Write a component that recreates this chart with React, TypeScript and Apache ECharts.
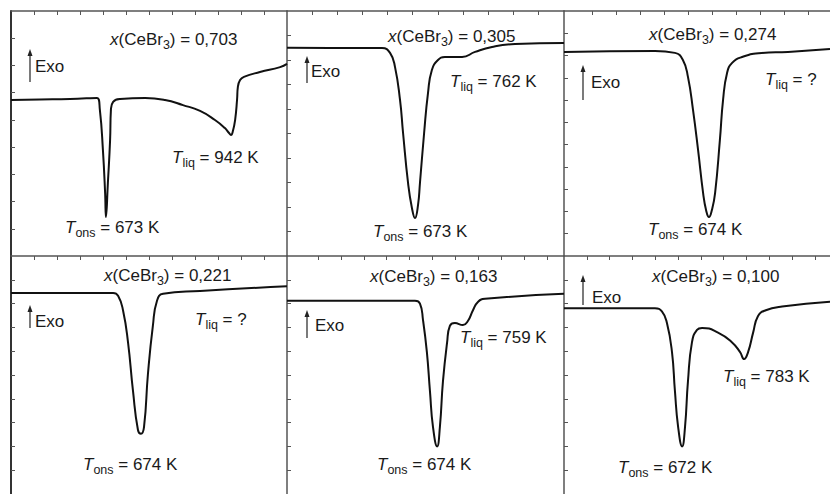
import React, { useEffect, useRef } from "react";
import * as echarts from "echarts";

// Panel labels
const compositions = ["0,703", "0,305", "0,274", "0,221", "0,163", "0,100"];
const tOnsLabels = ["673 K", "673 K", "674 K", "674 K", "674 K", "672 K"];
const tLiqLabels = ["942 K", "762 K", "?", "?", "759 K", "783 K"];

// DSC curves, x: 0..100 (% of panel span), y: 0..100 (heat flow, arbitrary)
const curve0703: number[][] = [
  [0, 63.7], [10.5, 63.9], [21.4, 64.1], [31.2, 64.5], [32.2, 59.6], [33.3, 43.3],
  [34.1, 25.7], [34.4, 15.9], [35.1, 29.8], [35.9, 47.3], [36.2, 59.6], [37.0, 62.9],
  [39.5, 64.1], [48.6, 64.5], [55.8, 63.7], [62.3, 61.6], [68.5, 59.2], [73.9, 55.5],
  [77.5, 52.2], [79.0, 50.2], [79.7, 49.4], [80.4, 51.0], [81.2, 55.5], [81.9, 63.7],
  [82.2, 69.0], [83.0, 71.8], [84.4, 73.1], [90.2, 75.1], [97.5, 77.1], [100, 78.4],
];
const curve0305: number[][] = [
  [0, 85.0], [15.5, 84.9], [34.3, 84.9], [37.2, 82.9], [39.0, 77.1], [40.8, 63.7],
  [41.9, 50.2], [43.7, 29.8], [45.1, 19.6], [46.2, 15.5], [47.3, 20.8], [48.0, 29.8],
  [49.5, 50.2], [50.9, 66.5], [52.3, 75.9], [54.5, 80.0], [57.0, 81.2], [63.2, 81.2],
  [67.9, 83.3], [74.0, 85.3], [82.3, 86.5], [100, 86.9],
];
const curve0274: number[][] = [
  [0, 83.3], [34.2, 83.7], [41.7, 82.9], [44.7, 80.0], [46.6, 73.1], [48.5, 59.6],
  [50.4, 43.3], [52.3, 25.7], [53.4, 18.8], [54.5, 15.9], [55.6, 18.8], [56.8, 25.7],
  [58.6, 47.3], [59.8, 63.7], [61.3, 74.7], [63.2, 78.8], [66.9, 81.2], [74.4, 82.9],
  [84.2, 83.3], [100, 84.5],
];
const curve0221: number[][] = [
  [0, 84.5], [37.0, 84.5], [38.8, 83.3], [40.6, 77.1], [42.4, 63.7], [44.2, 43.3],
  [46.0, 26.9], [47.1, 25.3], [48.2, 28.2], [49.6, 50.2], [51.4, 70.6], [52.9, 81.2],
  [55.1, 84.1], [68.5, 85.3], [100, 87.3],
];
const curve0163: number[][] = [
  [0, 81.2], [46.2, 81.2], [48.0, 80.0], [49.1, 73.1], [50.5, 59.6], [51.6, 43.3],
  [52.7, 28.2], [54.2, 20.0], [55.2, 28.2], [56.3, 47.3], [57.8, 63.7], [58.8, 70.6],
  [60.6, 71.8], [63.5, 71.0], [65.3, 72.7], [67.1, 77.1], [69.0, 80.8], [71.5, 82.0],
  [100, 84.1],
];
const curve0100: number[][] = [
  [0, 78.0], [34.2, 78.0], [36.8, 76.7], [38.7, 71.8], [40.6, 59.6], [41.7, 43.3],
  [42.9, 28.2], [44.4, 20.0], [45.5, 28.2], [46.6, 47.3], [48.1, 63.7], [50.0, 69.0],
  [51.9, 69.8], [57.9, 67.8], [63.2, 63.7], [66.2, 59.6], [67.7, 56.7], [69.2, 59.6],
  [71.1, 67.8], [72.9, 74.7], [75.6, 77.1], [82.0, 78.8], [100, 80.8],
];
const curves = [curve0703, curve0305, curve0274, curve0221, curve0163, curve0100];

// Tick positions (same 0..100 units)
const xTickStart = [8.33, 9.03, 10.5, 8.33, 11.2, 8.6];
const xTickStep = [8.333, 9.09, 9.02, 8.333, 8.27, 8.57];
const yTickCount = [9, 10, 11, 10, 10, 10];

const FONT = "'Liberation Sans', Arial, Helvetica, sans-serif";
const INK = "#1a1a1a";
const AXIS = "#555";

const cols = [
  { left: 11, width: 276 },
  { left: 287, width: 277 },
  { left: 564, width: 266 },
];
const rows = [
  { top: 11, height: 245 },
  { top: 256, height: 245 },
];

// Annotation placement (pixels): [left, capCenterY]
const titlePos = [[110, 40], [388, 37], [649, 35], [104, 276], [370, 277], [652, 277]];
const exoPos = [[35, 67], [311, 72], [591, 83], [35, 322], [315, 326], [592, 298]];
const liqPos = [[172, 158], [450, 82], [765, 80], [195, 320], [460, 338], [723, 377]];
const onsPos = [[65, 228], [373, 232], [648, 230], [83, 465], [377, 465], [618, 468]];
const arrowPos = [[30, 49, 82], [307, 56, 83], [583, 65, 100], [30, 305, 328], [307, 310, 338], [583, 275, 305]];

const rich = {
  n: { fontSize: 17, fontFamily: FONT, fill: INK, verticalAlign: "top" },
  i: { fontSize: 17, fontFamily: FONT, fill: INK, fontStyle: "italic", verticalAlign: "top" },
  s: { fontSize: 12.5, fontFamily: FONT, fill: INK, verticalAlign: "top", padding: [8, 0, 0, 0] },
};

function textEl(x: number, cy: number, text: string) {
  return {
    type: "text",
    x,
    y: cy - 9.5,
    silent: true,
    style: {
      text,
      rich,
      fontSize: 17,
      fontFamily: FONT,
      fill: INK,
      align: "left",
      verticalAlign: "top",
      textAlign: "left",
      textVerticalAlign: "top",
    },
  };
}

export default function App() {
  const ref = useRef<HTMLDivElement>(null);
  useEffect(() => {
    if (!ref.current) return;
    const chart = echarts.init(ref.current, undefined, { renderer: "svg" });
    const grids: any[] = [];
    const xAxes: any[] = [];
    const yAxes: any[] = [];
    const series: any[] = [];
    const graphics: any[] = [];
    for (let i = 0; i < 6; i++) {
      const c = cols[i % 3];
      const r = rows[Math.floor(i / 3)];
      grids.push({ left: c.left, top: r.top, width: c.width, height: r.height, containLabel: false });
      const xt: number[] = [];
      for (let v = xTickStart[i]; v < 99.5; v += xTickStep[i]) xt.push(+v.toFixed(2));
      const yt: number[] = [];
      for (let k = 1; k < yTickCount[i]; k++) yt.push(+((100 * k) / yTickCount[i]).toFixed(3));
      xAxes.push({
        type: "value",
        gridIndex: i,
        min: 0,
        max: 100,
        position: "top",
        axisLine: { show: true, onZero: false, lineStyle: { color: AXIS, width: 1.5 } },
        axisTick: { show: true, inside: true, length: 4, customValues: xt, lineStyle: { color: AXIS, width: 1 } },
        axisLabel: { show: false },
        splitLine: { show: false },
      });
      yAxes.push({
        type: "value",
        gridIndex: i,
        min: 0,
        max: 100,
        position: "left",
        axisLine: { show: true, onZero: false, lineStyle: { color: i % 3 === 0 ? "#333" : AXIS, width: i % 3 === 0 ? 2 : 1.5 } },
        axisTick: { show: true, inside: true, length: 4, customValues: yt, lineStyle: { color: AXIS, width: 1 } },
        axisLabel: { show: false },
        splitLine: { show: false },
      });
      series.push({
        type: "line",
        xAxisIndex: i,
        yAxisIndex: i,
        data: curves[i],
        showSymbol: false,
        smooth: 0.5,
        lineStyle: { color: "#111", width: 2 },
        silent: true,
      });
      const tp = titlePos[i];
      graphics.push(textEl(tp[0], tp[1], `{i|x}{n|(CeBr}{s|3}{n|) = ${compositions[i]}}`));
      const ep = exoPos[i];
      graphics.push(textEl(ep[0], ep[1], `{n|Exo}`));
      const lp = liqPos[i];
      graphics.push(textEl(lp[0], lp[1], `{i|T}{s|liq}{n| = ${tLiqLabels[i]}}`));
      const op = onsPos[i];
      graphics.push(textEl(op[0], op[1], `{i|T}{s|ons}{n| = ${tOnsLabels[i]}}`));
      const ap = arrowPos[i];
      graphics.push({
        type: "line",
        silent: true,
        shape: { x1: ap[0], y1: ap[1] + 5, x2: ap[0], y2: ap[2] },
        style: { stroke: "#222", lineWidth: 1.2 },
      });
      graphics.push({
        type: "polygon",
        silent: true,
        shape: { points: [[ap[0], ap[1]], [ap[0] - 2.5, ap[1] + 7], [ap[0] + 2.5, ap[1] + 7]] },
        style: { fill: "#222" },
      });
    }
    chart.setOption({
      animation: false,
      backgroundColor: "#fff",
      grid: grids,
      xAxis: xAxes,
      yAxis: yAxes,
      series,
      graphic: graphics,
    });
    return () => chart.dispose();
  }, []);
  return (
    <div
      ref={ref}
      style={{ position: "absolute", left: 0, top: 0, width: 830, height: 494, background: "#fff" }}
    />
  );
}
